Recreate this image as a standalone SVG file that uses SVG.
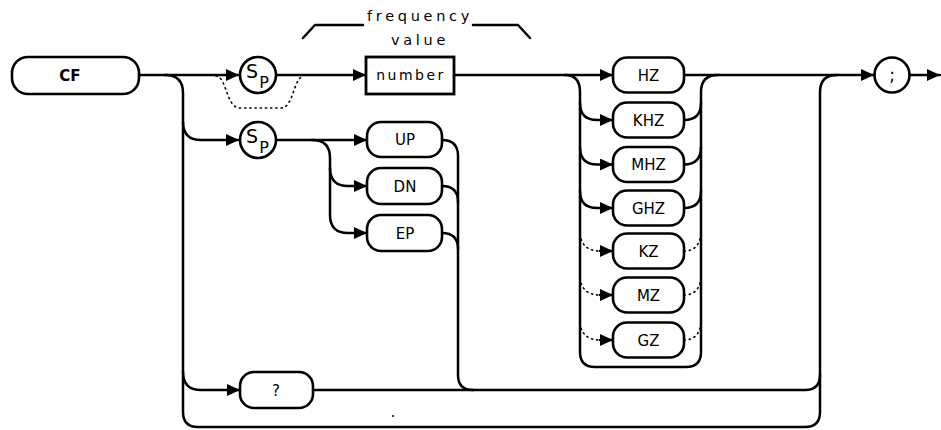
<svg xmlns="http://www.w3.org/2000/svg" width="941" height="430" viewBox="0 0 941 430">
<style>
.ln{fill:none;stroke:#000;stroke-width:2.5;stroke-linecap:round;stroke-linejoin:round}
.dt{fill:none;stroke:#000;stroke-width:1.6;stroke-dasharray:1.2 4;stroke-linecap:round}
.nd{fill:#fff;stroke:#000;stroke-width:2.6}
.tx{font-family:"DejaVu Sans","Liberation Sans",sans-serif;font-size:14px;fill:#000;text-anchor:middle}
.lb{font-family:"DejaVu Sans","Liberation Sans",sans-serif;font-size:14.5px;fill:#000;text-anchor:middle;letter-spacing:3.7px}
</style>
<defs>
<marker id="ah" markerUnits="userSpaceOnUse" markerWidth="13" markerHeight="12" refX="13" refY="6" orient="auto">
<path d="M0,0 L13,6 L0,12 z" fill="#000"/>
</marker>
</defs>
<rect width="941" height="430" fill="#fff"/>

<g id="connectors">
<path class="ln" d="M139,75 H239" marker-end="url(#ah)"/>
<path class="ln" d="M277,75 H366" marker-end="url(#ah)"/>
<path class="ln" d="M454,75 H613" marker-end="url(#ah)"/>
<path class="ln" d="M684,75 H874" marker-end="url(#ah)"/>
<path class="ln" d="M910,75 H940" marker-end="url(#ah)"/>
<path class="dt" d="M216,76 C227,77 226,108 240,108 H281 C294,108 293,77 304,76"/>
<path class="ln" d="M165,75 Q183,75 183,93 V412 Q183,427 198,427 H805 Q820,427 820,412 V92 Q820,75 837,75"/>
<path class="ln" d="M183,122 Q183,140 201,140 H239" marker-end="url(#ah)"/>
<path class="ln" d="M183,372 Q183,390 201,390 H240" marker-end="url(#ah)"/>
<path class="ln" d="M313,390 H805 Q820,390 820,375"/>
<path class="ln" d="M277,140 H367" marker-end="url(#ah)"/>
<path class="ln" d="M312,140 Q330,140 330,158 V215 Q330,233 348,233 H367" marker-end="url(#ah)"/>
<path class="ln" d="M330,168 Q330,186 348,186 H367" marker-end="url(#ah)"/>
<path class="ln" d="M442,140 Q458,140 458,156 V375 Q458,390 473,390"/>
<path class="ln" d="M442,186 Q458,186 458,202"/>
<path class="ln" d="M442,233 Q458,233 458,249"/>
<path class="ln" d="M565,75 Q580,75 580,92 V352 Q580,367 595,367 H686 Q701,367 701,352 V92 Q701,75 718,75"/>
<path class="ln" d="M580,103 Q580,120 597,120 H613" marker-end="url(#ah)"/>
<path class="ln" d="M684,120 Q701,120 701,103"/>
<path class="ln" d="M580,147 Q580,164.5 597,164.5 H613" marker-end="url(#ah)"/>
<path class="ln" d="M684,164.5 Q701,164.5 701,147"/>
<path class="ln" d="M580,191 Q580,208 597,208 H613" marker-end="url(#ah)"/>
<path class="ln" d="M684,208 Q701,208 701,191"/>
<path class="dt" d="M580,234 Q582,251 600,251"/>
<path class="ln" d="M600,251 H613" marker-end="url(#ah)"/>
<path class="dt" d="M684,251 Q699,251 701,234"/>
<path class="dt" d="M580,278 Q582,295 600,295"/>
<path class="ln" d="M600,295 H613" marker-end="url(#ah)"/>
<path class="dt" d="M684,295 Q699,295 701,278"/>
<path class="dt" d="M580,323 Q582,340 600,340"/>
<path class="ln" d="M600,340 H613" marker-end="url(#ah)"/>
<path class="dt" d="M684,340 Q699,340 701,323"/>
</g>

<g id="label-frequency-value">
<path class="ln" d="M303,38 L315,25 H363"/>
<path class="ln" d="M473,25 H518 L530,38"/>
<text class="lb" x="420" y="21">frequency</text>
<text class="lb" x="420" y="45">value</text>
</g>

<g id="node-CF">
<rect class="nd" x="12" y="57" width="127" height="37" rx="16"/>
<text class="tx" x="70" y="81" style="font-weight:bold;font-size:15px">CF</text>
</g>
<g id="node-sp1">
<circle class="nd" cx="258" cy="75" r="18"/>
<text class="tx" x="252" y="78" style="font-size:19px">S</text>
<text class="tx" x="264" y="88" style="font-size:16px">P</text>
</g>
<g id="node-sp2">
<circle class="nd" cx="258" cy="140" r="18"/>
<text class="tx" x="252" y="143" style="font-size:19px">S</text>
<text class="tx" x="264" y="153" style="font-size:16px">P</text>
</g>
<g id="node-number">
<rect class="nd" x="366" y="57" width="88" height="37" style="stroke-width:2.8"/>
<text class="tx" x="411" y="80" style="letter-spacing:2.5px">number</text>
</g>
<g id="node-UP">
<rect class="nd" x="367" y="122" width="75" height="35" rx="14"/>
<text class="tx" x="405" y="145" style="font-size:15px">UP</text>
</g>
<g id="node-DN">
<rect class="nd" x="367" y="168" width="75" height="36" rx="14"/>
<text class="tx" x="405" y="191.5" style="font-size:15px">DN</text>
</g>
<g id="node-EP">
<rect class="nd" x="367" y="215" width="75" height="36" rx="14"/>
<text class="tx" x="405" y="238.5" style="font-size:15px">EP</text>
</g>
<g id="node-query">
<rect class="nd" x="240" y="372" width="73" height="36" rx="14"/>
<text class="tx" x="276" y="395.5" style="font-size:15px">?</text>
</g>
<g id="node-HZ">
<rect class="nd" x="613" y="57.5" width="71" height="35" rx="14"/>
<text class="tx" x="648.5" y="80.5" style="font-size:15px">HZ</text>
</g>
<g id="node-KHZ">
<rect class="nd" x="613" y="102.5" width="71" height="35" rx="14"/>
<text class="tx" x="648.5" y="125.5" style="font-size:15px">KHZ</text>
</g>
<g id="node-MHZ">
<rect class="nd" x="613" y="147" width="71" height="35" rx="14"/>
<text class="tx" x="648.5" y="170" style="font-size:15px">MHZ</text>
</g>
<g id="node-GHZ">
<rect class="nd" x="613" y="190.5" width="71" height="35" rx="14"/>
<text class="tx" x="648.5" y="213.5" style="font-size:15px">GHZ</text>
</g>
<g id="node-KZ">
<rect class="nd" x="613" y="233.5" width="71" height="35" rx="14"/>
<text class="tx" x="648.5" y="256.5" style="font-size:15px">KZ</text>
</g>
<g id="node-MZ">
<rect class="nd" x="613" y="277.5" width="71" height="35" rx="14"/>
<text class="tx" x="648.5" y="300.5" style="font-size:15px">MZ</text>
</g>
<g id="node-GZ">
<rect class="nd" x="613" y="322.5" width="71" height="35" rx="14"/>
<text class="tx" x="648.5" y="345.5" style="font-size:15px">GZ</text>
</g>
<g id="node-semicolon">
<circle class="nd" cx="892" cy="75" r="17.5"/>
<text class="tx" x="892" y="81" style="font-size:17px">;</text>
</g>
<circle cx="393" cy="416" r="1" fill="#000"/>
</svg>
